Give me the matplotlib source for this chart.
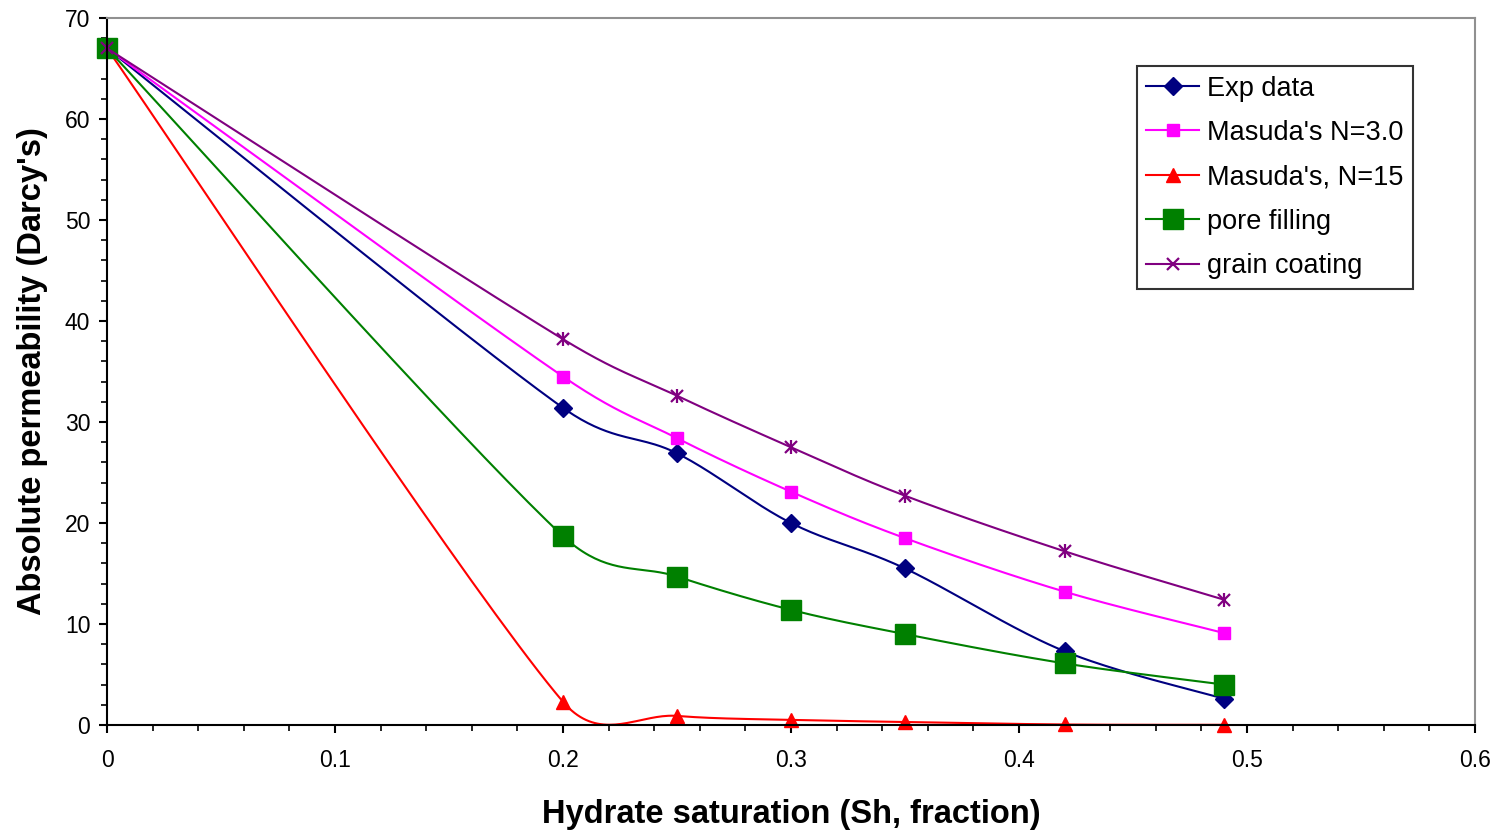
import numpy as np
import matplotlib
matplotlib.use("Agg")
from matplotlib import pyplot as plt
from matplotlib.ticker import MultipleLocator, FuncFormatter

plt.rcParams["font.family"] = ["Liberation Sans", "DejaVu Sans"]

sh = [0, 0.2, 0.25, 0.3, 0.35, 0.42, 0.49]
exp_data = [67, 31.4, 26.9, 20.0, 15.5, 7.3, 2.6]
masuda_3 = [67, 34.5, 28.4, 23.1, 18.5, 13.2, 9.1]
masuda_15 = [67, 2.3, 0.9, 0.5, 0.3, 0.05, 0.02]
pore_filling = [67, 18.7, 14.7, 11.4, 9.0, 6.1, 4.0]
grain_coating = [67, 38.2, 32.6, 27.5, 22.7, 17.2, 12.4]

XMAX, YMAX = 0.6, 70
W_PX, H_PX = 1368, 707


def smooth(x, y, n=40):
    # smoothed line like Excel: bezier pieces, tangent (P[i+1]-P[i-1])/6,
    # capped at half the segment length
    p = np.column_stack([np.array(x) / XMAX * W_PX, np.array(y) / YMAX * H_PX])
    out = [p[0]]
    t = np.linspace(0, 1, n)[1:, None]
    for i in range(len(p) - 1):
        d = np.linalg.norm(p[i + 1] - p[i])
        a = p[i - 1] if i > 0 else p[i]
        b = p[i + 2] if i + 2 < len(p) else p[i + 1]
        v1 = (p[i + 1] - a) / 6
        v2 = (b - p[i]) / 6
        for v in (v1, v2):
            m = np.linalg.norm(v)
            if m > 0.5 * d:
                v *= 0.5 * d / m
        c1 = p[i] + v1
        c2 = p[i + 1] - v2
        seg = ((1 - t) ** 3) * p[i] + 3 * ((1 - t) ** 2) * t * c1 \
            + 3 * (1 - t) * t ** 2 * c2 + t ** 3 * p[i + 1]
        out.extend(seg)
    out = np.array(out)
    return out[:, 0] / W_PX * XMAX, out[:, 1] / H_PX * YMAX


fig = plt.figure(figsize=(14.99, 8.31), dpi=100)
ax = fig.add_axes([107 / 1499, 1 - 725 / 831, 1368 / 1499, 707 / 831])

series = [
    ("Exp data", exp_data, "#000080", "D", 9.5),
    ("Masuda's N=3.0", masuda_3, "#FF00FF", "s", 9),
    ("Masuda's, N=15", masuda_15, "#FF0000", "^", 10),
    ("pore filling", pore_filling, "#008000", "s", 14),
    ("grain coating", grain_coating, "#800080", "x", 8),
]

lw = 1.5
for label, y, c, m, ms in series:
    xs, ys = smooth(sh, y)
    ax.plot(xs, ys, color=c, lw=lw)
    if m == "x":
        ax.plot(sh, y, linestyle="none", marker="x", color=c, markersize=ms, mew=1.6, clip_on=False)
        ax.plot(sh, y, linestyle="none", marker="|", color=c, markersize=ms + 2, mew=1.6, clip_on=False)
        ax.plot([], [], color=c, lw=lw, marker="x", markersize=ms, mew=1.6, label=label)
    else:
        ax.plot(sh, y, linestyle="none", marker=m, color=c, markersize=ms, clip_on=False)
        ax.plot([], [], color=c, lw=lw, marker=m, markersize=ms, label=label)

ax.set_xlim(0, XMAX)
ax.set_ylim(0, YMAX)
ax.xaxis.set_major_locator(MultipleLocator(0.1))
ax.xaxis.set_minor_locator(MultipleLocator(0.02))
ax.yaxis.set_major_locator(MultipleLocator(10))
ax.yaxis.set_minor_locator(MultipleLocator(2))
ax.xaxis.set_major_formatter(FuncFormatter(lambda v, p: f"{v:g}"))
ax.tick_params(axis="both", which="major", length=6, width=1.5, labelsize=16.5, direction="out")
ax.tick_params(axis="both", which="minor", length=4, width=1.2, direction="out")
ax.tick_params(axis="x", pad=11)
ax.tick_params(axis="y", pad=6)
for s in ["left", "bottom"]:
    ax.spines[s].set_linewidth(1.5)
    ax.spines[s].set_color("black")
for s in ["top", "right"]:
    ax.spines[s].set_color("#909090")
    ax.spines[s].set_linewidth(1.5)

ax.set_xlabel("Hydrate saturation (Sh, fraction)", fontsize=23.5, fontweight="bold", labelpad=20)
ax.set_ylabel("Absolute permeability (Darcy's)", fontsize=23.5, fontweight="bold", labelpad=12)

leg = ax.legend(loc="upper right", bbox_to_anchor=(0.9547, 0.932), fontsize=19.5,
                frameon=True, fancybox=False, edgecolor="black", borderpad=0.35,
                handlelength=1.95, handletextpad=0.3, labelspacing=0.68, borderaxespad=0)
leg.get_frame().set_linewidth(1.5)

fig.savefig("out.png", dpi=100)
